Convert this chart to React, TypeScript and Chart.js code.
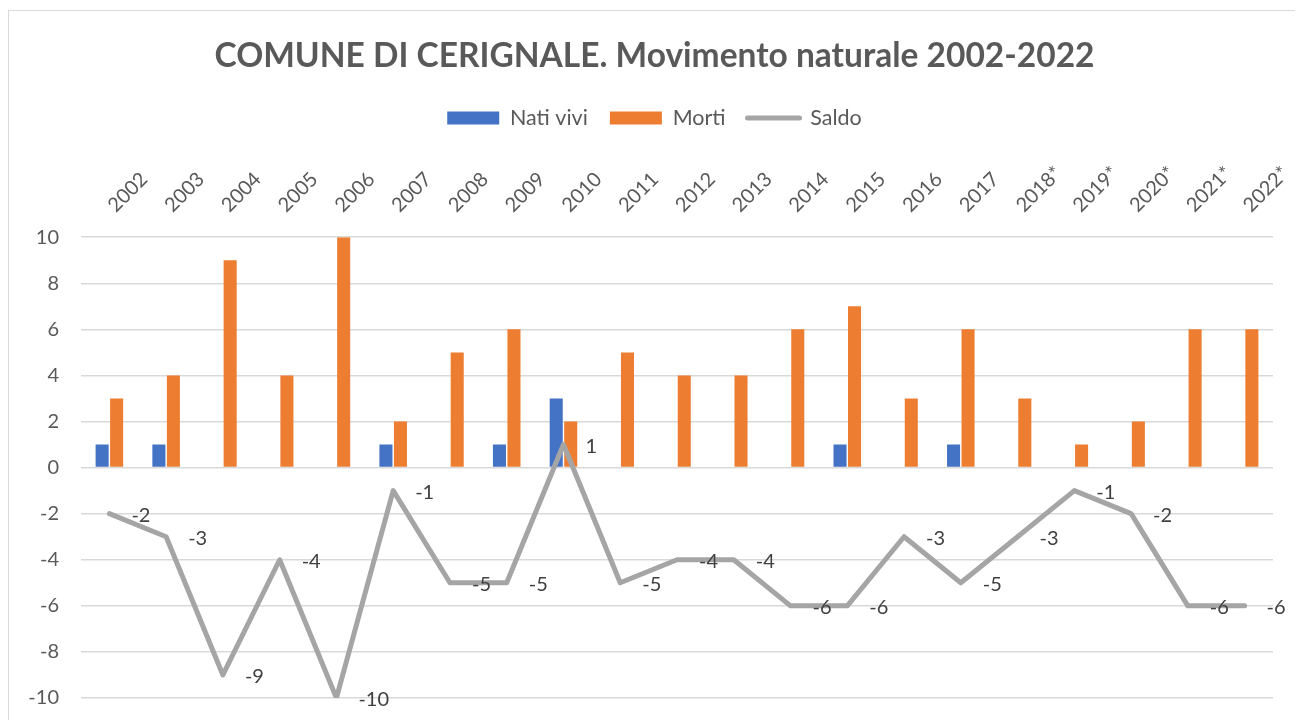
import React, { useEffect, useRef } from "react";
import { Chart, registerables } from "chart.js";

Chart.register(...registerables);

const years = ["2002","2003","2004","2005","2006","2007","2008","2009","2010","2011","2012","2013","2014","2015","2016","2017","2018*","2019*","2020*","2021*","2022*"];
const natiVivi = [1,1,0,0,0,1,0,1,3,0,0,0,0,1,0,1,0,0,0,0,0];
const morti = [3,4,9,4,10,2,5,6,2,5,4,4,6,7,3,6,3,1,2,6,6];
const saldo = [-2,-3,-9,-4,-10,-1,-5,-5,1,-5,-4,-4,-6,-6,-3,-5,-3,-1,-2,-6,-6];

const FONT = "Lato, 'Open Sans', sans-serif";
const TEXT = "#595959";

const saldoLabels = {
  id: "saldoLabels",
  afterDatasetsDraw(chart: any) {
    const meta = chart.getDatasetMeta(2);
    const ctx = chart.ctx;
    ctx.save();
    ctx.font = `20px ${FONT}`;
    ctx.fillStyle = "#404040";
    ctx.textAlign = "left";
    ctx.textBaseline = "middle";
    meta.data.forEach((pt: any, i: number) => {
      ctx.fillText(String(saldo[i]), pt.x + 22, pt.y + 2);
    });
    ctx.restore();
  },
};

export default function App() {
  const ref = useRef<HTMLCanvasElement>(null);
  useEffect(() => {
    document.documentElement.style.overflow = "hidden";
    const chart = new Chart(ref.current!, {
      type: "bar",
      data: {
        labels: years,
        datasets: [
          { label: "Nati vivi", data: natiVivi, backgroundColor: "#4472C4", borderWidth: 0, categoryPercentage: 0.511, barPercentage: 0.9, order: 1 },
          { label: "Morti", data: morti, backgroundColor: "#ED7D31", borderWidth: 0, categoryPercentage: 0.511, barPercentage: 0.9, order: 1 },
          { type: "line", label: "Saldo", data: saldo, borderColor: "#A5A5A5", backgroundColor: "#A5A5A5", borderWidth: 5, pointRadius: 0, tension: 0, borderJoinStyle: "round", borderCapStyle: "round", order: -1 } as any,
        ],
      },
      options: {
        responsive: false,
        animation: false,
        layout: { padding: { left: 0, right: 0, top: 0, bottom: 33 } },
        plugins: {
          tooltip: { enabled: false },
          title: {
            display: true,
            text: "COMUNE DI CERIGNALE. Movimento naturale 2002-2022",
            color: TEXT,
            font: { family: FONT, size: 33.5, weight: "bold" },
            padding: { top: 25, bottom: 9 },
          },
          legend: {
            display: true,
            labels: {
              color: TEXT,
              font: { family: FONT, size: 21.5 },
              padding: 22,
              usePointStyle: true,
              pointStyleWidth: 52,
              boxHeight: 13,
              generateLabels(c: any) {
                return c.data.datasets.map((ds: any, i: number) => {
                  const isLine = ds.type === "line";
                  return {
                    text: ds.label,
                    fillStyle: isLine ? "#A5A5A5" : ds.backgroundColor,
                    strokeStyle: isLine ? "#A5A5A5" : ds.backgroundColor,
                    lineWidth: isLine ? 5 : 0,
                    lineCap: "round",
                    pointStyle: isLine ? "line" : "rect",
                    fontColor: TEXT,
                    hidden: false,
                    datasetIndex: i,
                  };
                });
              },
            },
          },
        },
        scales: {
          x: {
            position: "top",
            grid: { display: false, drawTicks: false },
            border: { display: false },
            ticks: {
              autoSkip: false,
              minRotation: 45,
              maxRotation: 45,
              padding: 20,
              labelOffset: 19,
              color: TEXT,
              font: { family: FONT, size: 20 },
            },
            afterFit(s: any) { s.height = 98.5; s.paddingLeft = 0; s.paddingRight = 0; },
          },
          y: {
            min: -10,
            max: 10,
            grid: { color: "#D9D9D9", lineWidth: 1.5, drawTicks: false },
            border: { display: false },
            ticks: { stepSize: 2, padding: 22, color: TEXT, font: { family: FONT, size: 20 } },
            afterFit(s: any) { s.width = 72; s.paddingTop = 0; s.paddingBottom = 0; },
          },
          y2: {
            position: "right",
            grid: { display: false, drawTicks: false },
            border: { display: false },
            ticks: { display: false },
            afterFit(s: any) { s.width = 27; s.paddingTop = 0; s.paddingBottom = 0; },
          },
        },
      },
      plugins: [saldoLabels],
    });
    return () => chart.destroy();
  }, []);
  return (
    <div style={{ marginTop: 2, width: 1293, height: 740, border: "1px solid #D9D9D9", boxSizing: "border-box", background: "#fff" }}>
      <canvas ref={ref} width={1291} height={720} style={{ display: "block", width: 1291, height: 720 }} />
    </div>
  );
}
